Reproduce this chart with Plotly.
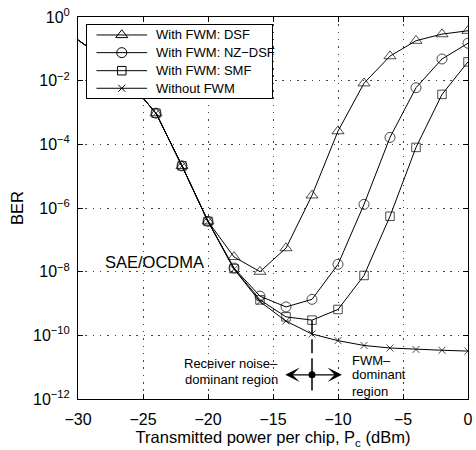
import numpy as np
import plotly.graph_objects as go

# Transmitted power per chip (dBm)
power_dbm = [-30, -28, -26, -24, -22, -20, -18, -16, -14, -12, -10, -8, -6, -4, -2, 0]

# BER for each fibre type (all curves share the low-power region)
ber_dsf = [0.19, 0.05, 0.0085, 9.5e-4, 2.1e-5, 3.8e-7, 2.9e-8, 1.0e-8, 5.5e-8,
           2.5e-6, 2.6e-4, 8.3e-3, 0.059, 0.18, 0.29, 0.37]
ber_nzdsf = [0.19, 0.05, 0.0085, 9.5e-4, 2.1e-5, 3.8e-7, 1.3e-8, 1.7e-9, 7.8e-10,
             1.35e-9, 1.7e-8, 1.3e-6, 1.65e-4, 6.0e-3, 0.048, 0.15]
ber_smf = [0.19, 0.05, 0.0085, 9.5e-4, 2.1e-5, 3.8e-7, 1.25e-8, 1.3e-9, 3.8e-10,
           3.0e-10, 6.5e-10, 7.6e-9, 5.5e-7, 8.0e-5, 3.7e-3, 0.039]
ber_nofwm = [0.19, 0.05, 0.0085, 9.5e-4, 2.1e-5, 3.8e-7, 1.2e-8, 1.15e-9, 2.8e-10,
             1.1e-10, 6.8e-11, 4.8e-11, 4.0e-11, 3.6e-11, 3.4e-11, 3.2e-11]

series_names = ["With FWM: DSF", "With FWM: NZ\u2212DSF", "With FWM: SMF", "Without FWM"]

x_ticks = [-30, -25, -20, -15, -10, -5, 0]
x_tick_text = ["\u221230", "\u221225", "\u221220", "\u221215", "\u221210", "\u22125", "0"]
y_exponents = [0, -2, -4, -6, -8, -10, -12]

# Boundary between the two regimes and the BER level of the region arrows
boundary_dbm = -12
boundary_top_ber = 3.0e-10
boundary_bottom_ber = 10 ** -11.73
arrow_ber = 10 ** -11.24
arrow_left_dbm = -14.05
arrow_right_dbm = -9.7

FONT = "Liberation Sans, Arial, Helvetica, sans-serif"

fig = go.Figure()

styles = [
    ("triangle-up-open", 10.5),
    ("circle-open", 10),
    ("square-open", 8.5),
    ("x-thin-open", 7),
]
all_ber = [ber_dsf, ber_nzdsf, ber_smf, ber_nofwm]
for name, ber, (sym, size) in zip(series_names, all_ber, styles):
    sizes = [0] + [size] * (len(power_dbm) - 1)
    fig.add_trace(go.Scatter(
        x=power_dbm, y=ber, name=name, mode="lines+markers", showlegend=False,
        line=dict(color="black", width=1),
        marker=dict(symbol=sym, size=sizes, color="black", line=dict(color="black", width=1)),
    ))

# Dashed boundary and its marker dot
fig.add_trace(go.Scatter(
    x=[boundary_dbm, boundary_dbm], y=[boundary_top_ber, boundary_bottom_ber],
    mode="lines", line=dict(color="black", width=1.5, dash="14px,5px"),
    showlegend=False, hoverinfo="skip",
))
fig.add_trace(go.Scatter(
    x=[boundary_dbm], y=[arrow_ber], mode="markers",
    marker=dict(symbol="circle", size=7, color="black"),
    showlegend=False, hoverinfo="skip",
))

# Boxed key drawn on its own small overlay axes (0..1 in both directions)
key_rows = [0.863, 0.621, 0.374, 0.133]
key_line = [0.052, 0.326]
key_text_x = 0.364
for name, (sym, size), row in zip(series_names, styles, key_rows):
    fig.add_trace(go.Scatter(
        x=[key_line[0], key_line[1]], y=[row, row], xaxis="x2", yaxis="y2",
        mode="lines", line=dict(color="black", width=1),
        showlegend=False, hoverinfo="skip",
    ))
    fig.add_trace(go.Scatter(
        x=[sum(key_line) / 2], y=[row], xaxis="x2", yaxis="y2",
        mode="markers", marker=dict(symbol=sym, size=size, color="black",
                                    line=dict(color="black", width=1)),
        showlegend=False, hoverinfo="skip",
    ))

annotations = []
for name, row in zip(series_names, key_rows):
    annotations.append(dict(
        x=key_text_x, y=row, xref="x2", yref="y2", text=name, showarrow=False,
        xanchor="left", yanchor="middle",
        font=dict(family=FONT, size=13, color="black"),
    ))

for tip in (arrow_left_dbm, arrow_right_dbm):
    annotations.append(dict(
        x=tip, y=np.log10(arrow_ber), ax=boundary_dbm, ay=np.log10(arrow_ber),
        xref="x", yref="y", axref="x", ayref="y", text="", showarrow=True,
        arrowhead=3, arrowsize=2.0, arrowwidth=1.2, arrowcolor="black", standoff=0,
    ))

def label(text, x, logy, xanchor, size):
    return dict(x=x, y=logy, xref="x", yref="y", text=text, showarrow=False,
                xanchor=xanchor, yanchor="middle",
                font=dict(family=FONT, size=size, color="black"))

annotations += [
    label("SAE/OCDMA", -24.1, -7.69, "center", 16.5),
    label("Receiver noise\u2013", -14.45, -10.9, "right", 13),
    label("dominant region", -14.45, -11.38, "right", 13),
    label("FWM\u2013", -9.05, -10.8, "left", 13),
    label("dominant", -9.05, -11.24, "left", 13),
    label("region", -9.05, -11.76, "left", 13),
]

axis_common = dict(
    showline=True, linecolor="black", linewidth=1, mirror="ticks",
    ticks="inside", ticklen=5, tickcolor="black", tickwidth=1,
    showgrid=True, gridcolor="#444444", gridwidth=1, griddash="1.5px,5.8px",
    zeroline=False, tickfont=dict(family=FONT, size=16, color="black"),
    ticklabeloverflow="allow",
)

fig.update_xaxes(
    range=[-30, 0], tickvals=x_ticks, ticktext=x_tick_text,
    title=dict(text="Transmitted power per chip, P<sub>c</sub> (dBm)",
               font=dict(family=FONT, size=16.5, color="black"), standoff=2),
    ticklabelstandoff=6,
    **axis_common,
)
fig.update_yaxes(
    type="log", range=[-12, 0],
    tickvals=[10.0 ** e for e in y_exponents],
    ticktext=["10<sup>%s</sup>" % (str(e).replace("-", "\u2212")) for e in y_exponents],
    title=dict(text="BER", font=dict(family=FONT, size=16.5, color="black"), standoff=5),
    ticklabelstandoff=4,
    **axis_common,
)

key_axis = dict(range=[0, 1], showgrid=False, zeroline=False, showticklabels=False,
                ticks="", showline=True, linecolor="black", linewidth=1, mirror=True,
                fixedrange=True)

fig.update_layout(
    width=476, height=450,
    margin=dict(l=78, r=3, t=17, b=51),
    paper_bgcolor="white", plot_bgcolor="white",
    font=dict(family=FONT, color="black"),
    annotations=annotations,
    xaxis2=dict(domain=[0.0228, 0.4962], anchor="y2", **key_axis),
    yaxis2=dict(domain=[0.7880, 0.9791], anchor="x2", **key_axis),
)

fig.write_html("out.html")
